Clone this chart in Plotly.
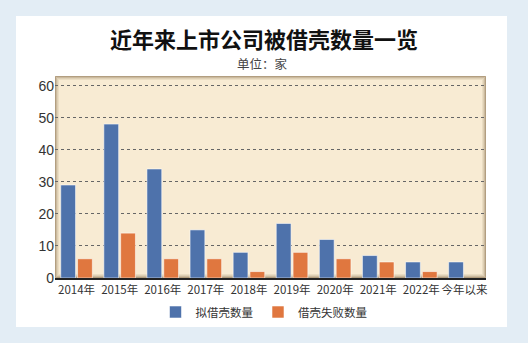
import plotly.graph_objects as go

# Data: listed companies used as backdoor-listing shells (unit: companies)
categories = ["2014年", "2015年", "2016年", "2017年", "2018年", "2019年",
              "2020年", "2021年", "2022年", "今年以来"]
planned = [29, 48, 34, 15, 8, 17, 12, 7, 5, 5]
failed = [6, 14, 6, 6, 2, 8, 6, 5, 2, None]
series_names = ["拟借壳数量", "借壳失败数量"]
y_ticks = [0, 10, 20, 30, 40, 50, 60]

W, H = 528, 343
ML, MR, MT, MB = 55, 42, 76, 65
PW, PH = W - ML - MR, H - MT - MB


def px_x(px):
    return (px - ML) / PW


def px_y(py):
    return (H - MB - py) / PH


CJK = "Noto Sans CJK SC, Liberation Sans, sans-serif"
BLUE = "#4e72ab"
ORANGE = "#e0773f"

fig = go.Figure()
fig.add_trace(go.Bar(x=categories, y=planned, name=series_names[0],
                     marker=dict(color=BLUE, line=dict(color="rgba(255,255,255,0.55)", width=1))))
fig.add_trace(go.Bar(x=categories, y=failed, name=series_names[1],
                     marker=dict(color=ORANGE, line=dict(color="rgba(255,255,255,0.55)", width=1))))

shapes = [
    # white card
    dict(type="rect", xref="paper", yref="paper", layer="below",
         x0=px_x(16), x1=px_x(507), y0=px_y(327), y1=px_y(16),
         fillcolor="white", line=dict(width=0)),
    # cream plot background
    dict(type="rect", xref="x domain", yref="y domain", layer="below",
         x0=0, x1=1, y0=0, y1=1, fillcolor="#f8ebd3", line=dict(width=0)),
]
# soft inner shadow around the plotting area
for i, a in enumerate([0.55, 0.35, 0.2, 0.1]):
    dx, dy = (i + 0.5) / PW, (i + 0.5) / PH
    shapes.append(dict(type="rect", xref="x domain", yref="y domain", layer="below",
                       x0=dx, x1=1 - dx, y0=dy, y1=1 - dy,
                       line=dict(color=f"rgba(120,95,60,{a})", width=1)))

fig.update_layout(
    width=W, height=H,
    margin=dict(l=ML, r=MR, t=MT, b=MB),
    paper_bgcolor="#e3edf5",
    plot_bgcolor="rgba(0,0,0,0)",
    barmode="group", bargap=0.22, bargroupgap=0.12,
    shapes=shapes,
    showlegend=True,
    legend=dict(orientation="h", xref="container", yref="container",
                x=0.5, xanchor="center", y=1 - 312 / H, yanchor="middle",
                font=dict(family=CJK, size=11.5, color="#333"),
                bgcolor="rgba(0,0,0,0)", itemwidth=30),
    title=dict(text="<b>近年来上市公司被借壳数量一览</b>", xref="container", yref="container",
               x=0.5, xanchor="center", y=1 - 40 / H, yanchor="middle",
               font=dict(family=CJK, size=22, color="#111")),
    annotations=[dict(text="单位：家", xref="paper", yref="paper",
                      x=px_x(262), y=px_y(63.5), xanchor="center", yanchor="middle",
                      showarrow=False, font=dict(family=CJK, size=12.5, color="#444"))],
    xaxis=dict(type="category", showgrid=False, showline=True, linecolor="#222", linewidth=2,
               ticks="", tickangle=0, automargin=False,
               tickfont=dict(family="Liberation Sans Narrow, " + CJK, size=11.5, color="#333")),
    yaxis=dict(range=[0, 63], tickvals=y_ticks, showgrid=True, gridcolor="#666", griddash="dot",
               gridwidth=1, zeroline=False, showline=False, ticks="", automargin=False,
               tickfont=dict(family="Liberation Sans, Arial, sans-serif", size=14, color="#333")),
    font=dict(family=CJK),
)

fig.write_html("out.html")
